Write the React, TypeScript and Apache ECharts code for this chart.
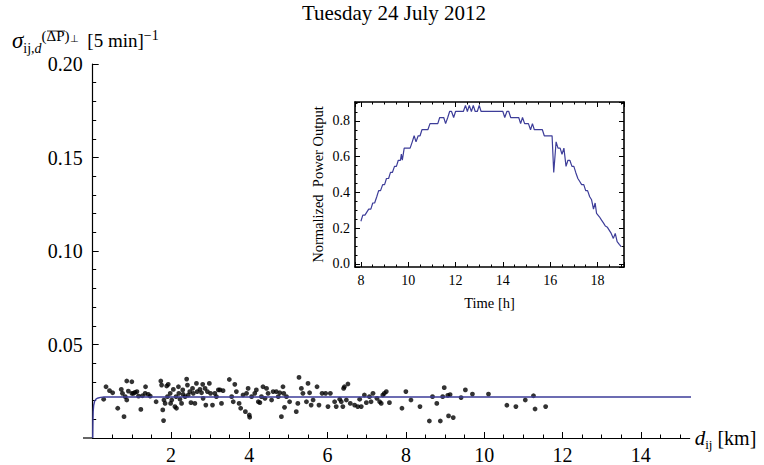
import React, { useEffect, useRef } from "react";
import * as echarts from "echarts";

const titleText = "Tuesday 24 July 2012";
const mainXTicks = [2, 4, 6, 8, 10, 12, 14];

// scatter: distance d_ij [km] and sigma values
const distKm = [
  0.28, 0.34, 0.43, 0.51, 0.64, 0.73, 0.76, 0.8, 0.83, 0.87, 0.87, 0.91, 1.0, 1.0, 1.04, 1.08, 1.13, 1.17, 1.23, 1.27,
  1.34, 1.35, 1.42, 1.47, 1.62, 1.74, 1.76, 1.79, 1.81, 1.82, 1.85, 1.89, 1.91, 1.93, 1.98, 1.99, 2.02, 2.06, 2.1, 2.13,
  2.14, 2.19, 2.2, 2.23, 2.27, 2.3, 2.31, 2.36, 2.4, 2.42, 2.44, 2.48, 2.51, 2.55, 2.57, 2.61, 2.65, 2.67, 2.74, 2.78,
  2.81, 2.82, 2.87, 2.89, 2.93, 2.98, 3.01, 3.06, 3.12, 3.16, 3.21, 3.25, 3.29, 3.33, 3.49, 3.55, 3.59, 3.63, 3.67, 3.74,
  3.78, 3.84, 3.9, 3.93, 3.97, 4.0, 4.01, 4.06, 4.14, 4.18, 4.23, 4.27, 4.31, 4.35, 4.4, 4.44, 4.48, 4.57, 4.61, 4.69,
  4.74, 4.78, 4.82, 4.86, 4.88, 4.9, 4.95, 5.03, 5.2, 5.24, 5.27, 5.33, 5.37, 5.46, 5.5, 5.54, 5.58, 5.63, 5.73, 5.78,
  5.86, 5.95, 6.01, 6.07, 6.18, 6.22, 6.31, 6.35, 6.39, 6.41, 6.43, 6.48, 6.52, 6.58, 6.69, 6.77, 6.82, 6.86, 6.94, 6.99,
  7.07, 7.11, 7.16, 7.26, 7.33, 7.37, 7.41, 7.45, 7.5, 7.58, 7.9, 8.0, 8.13, 8.36, 8.6, 8.68, 8.79, 8.88, 8.94, 8.98,
  9.07, 9.09, 9.13, 9.21, 9.41, 9.52, 9.7, 10.11, 10.58, 10.81, 11.05, 11.26, 11.3, 11.57,
];
const sigmaValues = [
  0.0207, 0.0274, 0.0253, 0.0242, 0.0159, 0.026, 0.0239, 0.0114, 0.0221, 0.0305, 0.0203, 0.0251, 0.0301, 0.0239, 0.0239, 0.0244, 0.0248, 0.0224, 0.0153, 0.0226,
  0.0239, 0.0274, 0.0233, 0.0224, 0.0194, 0.0305, 0.0283, 0.015, 0.0093, 0.0203, 0.0185, 0.0278, 0.0221, 0.0287, 0.0239, 0.0185, 0.0203, 0.026, 0.0168, 0.0221,
  0.0159, 0.0274, 0.0239, 0.0207, 0.0185, 0.0257, 0.0233, 0.0221, 0.0315, 0.0283, 0.023, 0.0248, 0.0189, 0.0265, 0.0239, 0.0185, 0.0292, 0.0248, 0.026, 0.0242,
  0.0287, 0.0212, 0.0265, 0.0176, 0.0248, 0.0292, 0.0239, 0.0176, 0.0239, 0.0221, 0.0257, 0.0257, 0.0185, 0.0253, 0.0313, 0.0221, 0.0194, 0.0287, 0.0248, 0.0185,
  0.0159, 0.023, 0.0141, 0.0239, 0.0265, 0.0123, 0.0111, 0.0221, 0.0239, 0.0257, 0.0194, 0.0189, 0.0221, 0.0274, 0.0212, 0.0265, 0.0239, 0.0203, 0.0248, 0.0248,
  0.0221, 0.0242, 0.0114, 0.0274, 0.0239, 0.0164, 0.0221, 0.0194, 0.0141, 0.0185, 0.0324, 0.0265, 0.0239, 0.0194, 0.0292, 0.0242, 0.0176, 0.0203, 0.0274, 0.0176,
  0.0239, 0.0239, 0.0168, 0.0239, 0.0194, 0.0168, 0.0207, 0.0194, 0.0168, 0.0265, 0.0274, 0.0203, 0.0289, 0.0185, 0.0176, 0.0168, 0.0207, 0.0168, 0.023, 0.0189,
  0.0221, 0.0194, 0.0239, 0.0212, 0.0194, 0.0185, 0.023, 0.0239, 0.0248, 0.0189, 0.0159, 0.0248, 0.0203, 0.0168, 0.0091, 0.0221, 0.0185, 0.0091, 0.0221, 0.0269,
  0.0228, 0.0118, 0.0232, 0.0109, 0.0216, 0.0257, 0.0235, 0.0235, 0.0175, 0.0168, 0.0203, 0.0226, 0.0155, 0.0168,
];

// fitted curve
const fitDist = [0, 0.005, 0.012, 0.025, 0.05, 0.09, 0.14, 0.2, 0.3, 15.3];
const fitSigma = [0, 0.008, 0.014, 0.0175, 0.0198, 0.0209, 0.0214, 0.0217, 0.0219, 0.0219];

// inset: normalized power output vs time [h]
const powerHours = [
  8.0, 8.08, 8.17, 8.25, 8.33, 8.42, 8.5, 8.58, 8.67, 8.75, 8.83, 8.92, 9.0, 9.08, 9.17, 9.25, 9.33, 9.42, 9.5, 9.58,
  9.67, 9.71, 9.75, 9.83, 9.92, 10.0, 10.08, 10.17, 10.25, 10.33, 10.42, 10.5, 10.58, 10.67, 10.75, 10.83, 10.92, 11.0, 11.08, 11.17,
  11.25, 11.33, 11.42, 11.5, 11.58, 11.67, 11.75, 11.83, 11.92, 12.0, 12.08, 12.17, 12.25, 12.33, 12.42, 12.5, 12.58, 12.67, 12.75, 12.83,
  12.92, 13.0, 13.08, 13.17, 13.25, 13.33, 13.42, 13.5, 13.58, 13.67, 13.75, 13.83, 13.92, 14.0, 14.08, 14.17, 14.25, 14.33, 14.42, 14.5,
  14.58, 14.67, 14.75, 14.83, 14.92, 15.0, 15.08, 15.17, 15.25, 15.33, 15.42, 15.5, 15.58, 15.67, 15.75, 15.83, 15.92, 16.0, 16.08, 16.15,
  16.25, 16.33, 16.42, 16.5, 16.58, 16.67, 16.75, 16.83, 16.92, 17.0, 17.08, 17.17, 17.25, 17.33, 17.42, 17.5, 17.58, 17.67, 17.75, 17.83,
  17.9, 17.96, 18.08, 18.17, 18.25, 18.33, 18.42, 18.5, 18.58, 18.67, 18.75, 18.83, 18.92, 19.0,
];
const powerValues = [
  0.239, 0.273, 0.273, 0.29, 0.307, 0.307, 0.341, 0.341, 0.376, 0.41, 0.41, 0.444, 0.444, 0.478, 0.478, 0.512, 0.512, 0.546, 0.546, 0.58,
  0.58, 0.614, 0.58, 0.648, 0.648, 0.648, 0.648, 0.683, 0.717, 0.683, 0.717, 0.717, 0.751, 0.751, 0.751, 0.751, 0.785, 0.785, 0.785, 0.785,
  0.785, 0.819, 0.819, 0.819, 0.785, 0.819, 0.853, 0.853, 0.819, 0.853, 0.853, 0.853, 0.853, 0.853, 0.887, 0.853, 0.887, 0.853, 0.887, 0.853,
  0.853, 0.887, 0.853, 0.853, 0.853, 0.853, 0.853, 0.853, 0.853, 0.853, 0.853, 0.853, 0.853, 0.853, 0.819, 0.853, 0.853, 0.819, 0.819, 0.819,
  0.819, 0.819, 0.785, 0.819, 0.785, 0.785, 0.785, 0.751, 0.785, 0.751, 0.751, 0.751, 0.751, 0.751, 0.717, 0.717, 0.717, 0.717, 0.717, 0.512,
  0.683, 0.648, 0.648, 0.614, 0.648, 0.546, 0.58, 0.58, 0.546, 0.546, 0.512, 0.478, 0.461, 0.444, 0.444, 0.41, 0.41, 0.376, 0.359, 0.307,
  0.341, 0.283, 0.264, 0.245, 0.23, 0.212, 0.205, 0.188, 0.171, 0.143, 0.171, 0.125, 0.11, 0.097,
];

const BLUE = "#3D3D99";
const SERIF = "'Liberation Serif', 'Times New Roman', serif";

export default function App() {
  const ref = useRef<HTMLDivElement>(null);
  useEffect(() => {
    if (!ref.current) return;
    const chart = echarts.init(ref.current, undefined, { renderer: "svg" });
    const scatterData = distKm.map((d, i) => [d, sigmaValues[i]]);
    const fitData = fitDist.map((d, i) => [d, fitSigma[i]]);
    const powerData = powerHours.map((h, i) => [h, powerValues[i]]);

    const axLine = { show: true, onZero: false, lineStyle: { color: "#000", width: 1.2 } };
    const insetLine = { show: true, onZero: false, lineStyle: { color: "#000", width: 1.6 } };

    const option: any = {
      animation: false,
      backgroundColor: "#ffffff",
      grid: [
        { left: 92.7, top: 64, width: 597, height: 374, containLabel: false },
        { left: 355, top: 102, width: 269, height: 165, containLabel: false },
      ],
      xAxis: [
        {
          gridIndex: 0,
          type: "value",
          min: 0,
          max: 15.25,
          interval: 2,
          axisLine: axLine,
          axisTick: { show: true, inside: true, length: 6, customValues: mainXTicks, lineStyle: { color: "#000", width: 1 } },
          minorTick: { show: true, splitNumber: 4, length: 3.5, lineStyle: { color: "#000", width: 1 } },
          axisLabel: {
            show: true,
            margin: 7,
            color: "#000",
            fontFamily: SERIF,
            fontSize: 20,
            formatter: (v: number) => (mainXTicks.indexOf(v) >= 0 ? String(v) : ""),
          },
          splitLine: { show: false },
          name: "{d|d}{s|ij} [km]",
          nameLocation: "end",
          nameGap: 5,
          nameTextStyle: {
            color: "#000",
            fontFamily: SERIF,
            fontSize: 20,
            rich: {
              d: { fontFamily: SERIF, fontStyle: "italic", fontSize: 21, color: "#000" },
              s: { fontFamily: SERIF, fontSize: 13, color: "#000", padding: [12, 0, 0, 0] },
            },
          },
        },
        {
          gridIndex: 1,
          type: "value",
          position: "bottom",
          min: 7.75,
          max: 19.12,
          axisLine: insetLine,
          axisTick: { show: true, inside: true, length: 5, lineStyle: { color: "#000" } },
          minorTick: { show: true, splitNumber: 4, length: 2.5, lineStyle: { color: "#000" } },
          axisLabel: {
            show: true,
            margin: 6,
            color: "#000",
            fontFamily: SERIF,
            fontSize: 14,
            formatter: (v: number) => (Math.abs(v - Math.round(v)) < 1e-6 ? String(v) : ""),
          },
          splitLine: { show: false },
          name: "Time [h]",
          nameLocation: "middle",
          nameGap: 28,
          nameTextStyle: { color: "#000", fontFamily: SERIF, fontSize: 14.5 },
        },
        {
          gridIndex: 1,
          type: "value",
          position: "top",
          min: 7.75,
          max: 19.12,
          axisLine: insetLine,
          axisTick: { show: true, inside: true, length: 5, lineStyle: { color: "#000" } },
          minorTick: { show: true, splitNumber: 4, length: 2.5, lineStyle: { color: "#000" } },
          axisLabel: { show: false },
          splitLine: { show: false },
        },
      ],
      yAxis: [
        {
          gridIndex: 0,
          type: "value",
          min: 0,
          max: 0.2,
          interval: 0.05,
          axisLine: axLine,
          axisTick: { show: true, inside: true, length: 6, lineStyle: { color: "#000", width: 1 } },
          minorTick: { show: true, splitNumber: 5, length: 3.5, lineStyle: { color: "#000", width: 1 } },
          axisLabel: {
            show: true,
            margin: 10,
            color: "#000",
            fontFamily: SERIF,
            fontSize: 20,
            formatter: (v: number) => (v === 0 ? "" : v.toFixed(2)),
          },
          splitLine: { show: false },
        },
        {
          gridIndex: 1,
          type: "value",
          position: "left",
          min: -0.017,
          max: 0.906,
          axisLine: insetLine,
          axisTick: { show: true, inside: true, length: 5, lineStyle: { color: "#000" } },
          minorTick: { show: true, splitNumber: 4, length: 2.5, lineStyle: { color: "#000" } },
          axisLabel: {
            show: true,
            margin: 5,
            color: "#000",
            fontFamily: SERIF,
            fontSize: 14,
            formatter: (v: number) => (Math.abs(v * 5 - Math.round(v * 5)) < 1e-6 ? v.toFixed(1) : ""),
          },
          splitLine: { show: false },
          name: "Normalized  Power Output",
          nameLocation: "middle",
          nameGap: 30,
          nameTextStyle: { color: "#000", fontFamily: SERIF, fontSize: 14.5 },
        },
        {
          gridIndex: 1,
          type: "value",
          position: "right",
          min: -0.017,
          max: 0.906,
          axisLine: insetLine,
          axisTick: { show: true, inside: true, length: 5, lineStyle: { color: "#000" } },
          minorTick: { show: true, splitNumber: 4, length: 2.5, lineStyle: { color: "#000" } },
          axisLabel: { show: false },
          splitLine: { show: false },
        },
      ],
      series: [
        {
          type: "scatter",
          xAxisIndex: 0,
          yAxisIndex: 0,
          data: scatterData,
          symbol: "circle",
          symbolSize: 4.8,
          itemStyle: { color: "#000" },
        },
        {
          type: "line",
          xAxisIndex: 0,
          yAxisIndex: 0,
          data: fitData,
          showSymbol: false,
          clip: false,
          lineStyle: { color: BLUE, width: 1.4 },
        },
        {
          type: "line",
          xAxisIndex: 1,
          yAxisIndex: 1,
          data: powerData,
          showSymbol: false,
          lineStyle: { color: BLUE, width: 1.2 },
        },
      ],
      graphic: [
        {
          type: "text",
          x: 394,
          y: 2,
          style: {
            text: titleText,
            fill: "#000",
            font: `21px ${SERIF}`,
            align: "center",
            verticalAlign: "top",
          },
        },
        {
          type: "text",
          x: 12,
          y: 40,
          style: {
            text: "{sig|σ}{sub|ij,}{subd|d}{sup|(ΔP)}{perp|⊥} [5 min]{sup2|−1}",
            fill: "#000",
            font: `19px ${SERIF}`,
            align: "left",
            verticalAlign: "middle",
            rich: {
              sig: { fontFamily: SERIF, fontStyle: "italic", fontSize: 23, fill: "#000" },
              sub: { fontFamily: SERIF, fontSize: 14, fill: "#000", padding: [16, 0, 0, 0] },
              subd: { fontFamily: SERIF, fontStyle: "italic", fontSize: 14, fill: "#000", padding: [16, 0, 0, 0] },
              sup: { fontFamily: SERIF, fontSize: 15, fill: "#000", padding: [0, 0, 8, 0] },
              perp: { fontFamily: SERIF, fontSize: 10, fill: "#000", padding: [0, 4, 4, 0] },
              sup2: { fontFamily: SERIF, fontSize: 14, fill: "#000", padding: [0, 0, 10, 0] },
            },
          },
        },
        {
          type: "line",
          shape: { x1: 47, y1: 31, x2: 65, y2: 31 },
          style: { stroke: "#000", lineWidth: 0.8 },
        },
        {
          type: "line",
          shape: { x1: 83, y1: 438, x2: 93, y2: 438 },
          style: { stroke: "#000", lineWidth: 1.2 },
        },
      ],
    };
    chart.setOption(option);
    return () => chart.dispose();
  }, []);
  return <div ref={ref} style={{ position: "absolute", left: 0, top: 0, width: 764, height: 465 }} />;
}
